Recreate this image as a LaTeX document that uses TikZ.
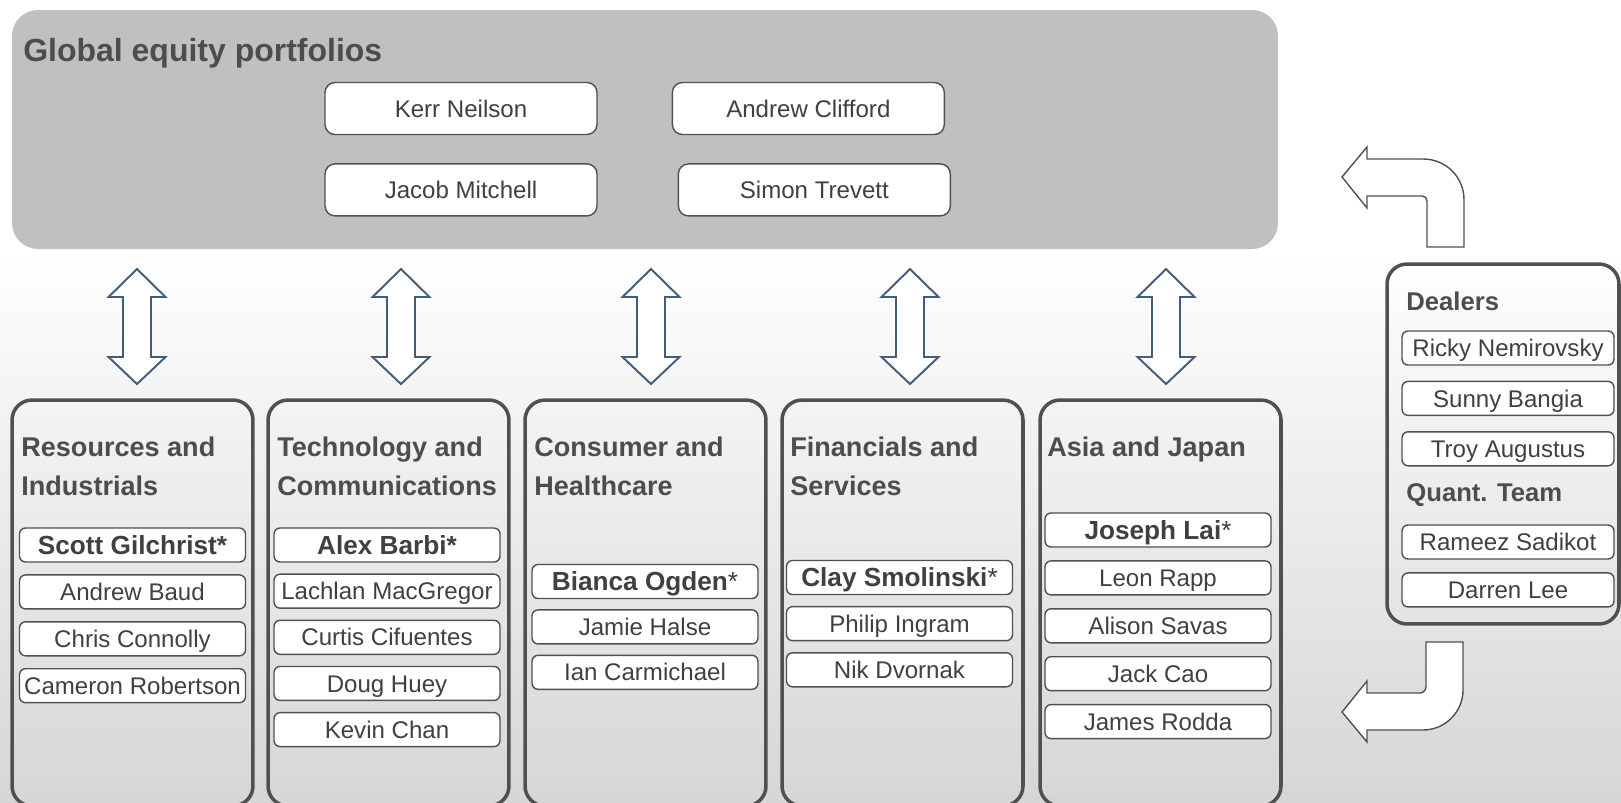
\documentclass[tikz,border=0pt]{standalone}
\usepackage{fontspec}
\setmainfont{Liberation Sans}
\usetikzlibrary{positioning}
\definecolor{bggray}{RGB}{214,214,214}
\definecolor{boxgray}{RGB}{192,192,192}
\definecolor{linegray}{RGB}{80,80,80}
\definecolor{namegray}{RGB}{64,64,64}
\definecolor{headgray}{RGB}{77,77,77}
\definecolor{arrowblue}{RGB}{66,92,124}

\begin{document}
\begin{tikzpicture}[x=0.02cm,y=-0.02cm]
	\tikzstyle{person}=[draw=linegray,line width=0.8pt,fill=white,rounded corners=0.12cm,minimum width=4.52cm,minimum height=0.68cm,inner xsep=1pt,inner ysep=0pt,text height=12pt,text depth=2.2pt,text=namegray,font=\fontsize{13.7}{16}\selectfont]
	\tikzstyle{leader}=[person,text height=12.5pt,text depth=1.8pt,font=\fontsize{14.9}{17}\selectfont]
	\tikzstyle{pmbox}=[person,rounded corners=0.2cm,minimum width=5.44cm,minimum height=1.04cm]
	\tikzstyle{dealerbox}=[person,minimum width=4.24cm]
	\tikzstyle{teambox}=[draw=linegray,line width=2pt,rounded corners=0.4cm,minimum width=4.82cm,minimum height=8.12cm]
	\tikzstyle{headtext}=[anchor=base west,align=left,inner sep=0pt,text=headgray,font=\bfseries\fontsize{15.4}{22.2}\selectfont]
	\tikzstyle{dualarrow}=[draw=arrowblue,line width=1.1pt,fill=white]
	\tikzstyle{bentarrow}=[draw=linegray,line width=0.8pt,fill=white]
		\useasboundingbox (0,0) rectangle (1621,802);
		\fill[white] (0,0) rectangle (1621,250);
		\shade[top color=white,bottom color=bggray] (0,250) rectangle (1621,802);
		% portfolio managers
		\fill[boxgray,rounded corners=0.52cm] (12,10) rectangle (1278,249);
		\node[anchor=base west,inner sep=0pt,text=headgray,font=\bfseries\fontsize{18.2}{22}\selectfont] (gep) at (23,61.5) {Global equity portfolios};
		\node[pmbox] (kerr) at (461,108.5) {Kerr Neilson};
		\node[pmbox,right=1.48cm of kerr] (clifford) {Andrew Clifford};
		\node[pmbox,below=0.56cm of kerr] (mitchell) {Jacob Mitchell};
		\node[pmbox,right=1.6cm of mitchell] (trevett) {Simon Trevett};
		% links to the teams
		\foreach \cx in {137,401,651,910,1166}
			\draw[dualarrow] (\cx,269) -- ++(28.5,28) -- ++(-14.5,0) -- ++(0,60) -- ++(14.5,0) -- ++(-28.5,27) -- ++(-28.5,-27) -- ++(14.5,0) -- ++(0,-60) -- ++(-14.5,0) -- cycle;
		% sector teams
		\node[teambox] (res) at (132.5,603) {};
		\node[headtext] (reshead) at (21,495.8) {Resources and\\Industrials};
		\node[leader] (scott) at (132.5,545) {\textbf{Scott Gilchrist*}};
		\node[person,below=0.23cm of scott] (baud) {Andrew Baud};
		\node[person,below=0.23cm of baud] (connolly) {Chris Connolly};
		\node[person,below=0.23cm of connolly] (robertson) {Cameron Robertson};
		\node[teambox] (tech) at (388.5,603) {};
		\node[headtext] (techhead) at (277,495.8) {Technology and\\Communications};
		\node[leader] (barbi) at (387,545) {\textbf{Alex Barbi*}};
		\node[person,below=0.215cm of barbi] (macgregor) {Lachlan MacGregor};
		\node[person,below=0.215cm of macgregor] (cifuentes) {Curtis Cifuentes};
		\node[person,below=0.215cm of cifuentes] (huey) {Doug Huey};
		\node[person,below=0.215cm of huey] (chan) {Kevin Chan};
		\node[teambox] (cons) at (645.5,603) {};
		\node[headtext] (conshead) at (534,495.8) {Consumer and\\Healthcare};
		\node[leader] (ogden) at (645,581.5) {\textbf{Bianca Ogden}*};
		\node[person,below=0.2cm of ogden] (halse) {Jamie Halse};
		\node[person,below=0.2cm of halse] (carmichael) {Ian Carmichael};
		\node[teambox] (fin) at (902.5,603) {};
		\node[headtext] (finhead) at (790,495.8) {Financials and\\Services};
		\node[leader] (smolinski) at (899.5,577.5) {\textbf{Clay Smolinski}*};
		\node[person,below=0.215cm of smolinski] (ingram) {Philip Ingram};
		\node[person,below=0.215cm of ingram] (dvornak) {Nik Dvornak};
		\node[teambox] (asia) at (1160.5,603) {};
		\node[headtext] (asiahead) at (1047,456.7) {Asia and Japan};
		\node[leader] (lai) at (1158,530) {\textbf{Joseph Lai}*};
		\node[person,below=0.25cm of lai] (rapp) {Leon Rapp};
		\node[person,below=0.25cm of rapp] (savas) {Alison Savas};
		\node[person,below=0.25cm of savas] (cao) {Jack Cao};
		\node[person,below=0.25cm of cao] (rodda) {James Rodda};
		% dealers and quant team
		\draw[bentarrow] (1427,247) -- (1427,201) .. controls (1427,198) and (1425,196) .. (1422,196) -- (1367,196) -- (1367,208) -- (1342,177) -- (1367,147) -- (1367,159) -- (1423,159) .. controls (1446,159) and (1464,177) .. (1464,200) -- (1464,247) -- cycle;
		\draw[bentarrow] (1426,642) -- (1463,642) -- (1463,690) .. controls (1463,712) and (1445,730) .. (1423,730) -- (1367,730) -- (1367,742) -- (1342,712) -- (1367,681) -- (1367,693) -- (1420,693) .. controls (1423,693) and (1426,690) .. (1426,687) -- cycle;
		\node[teambox,minimum width=4.64cm,minimum height=7.2cm] (desk) at (1503,444) {};
		\node[headtext,font=\bfseries\fontsize{14.6}{18}\selectfont] (dealhead) at (1406,310.2) {Dealers};
		\node[dealerbox] (nemirovsky) at (1508,348) {Ricky Nemirovsky};
		\node[dealerbox,below=0.3cm of nemirovsky] (bangia) {Sunny Bangia};
		\node[dealerbox,below=0.3cm of bangia] (augustus) {Troy Augustus};
		\node[headtext,font=\bfseries\fontsize{14.6}{18}\selectfont] (quanthead) at (1406,501.2) {Quant. Team};
		\node[dealerbox] (sadikot) at (1508,542) {Rameez Sadikot};
		\node[dealerbox,below=0.25cm of sadikot] (lee) {Darren Lee};
\end{tikzpicture}
\end{document}
